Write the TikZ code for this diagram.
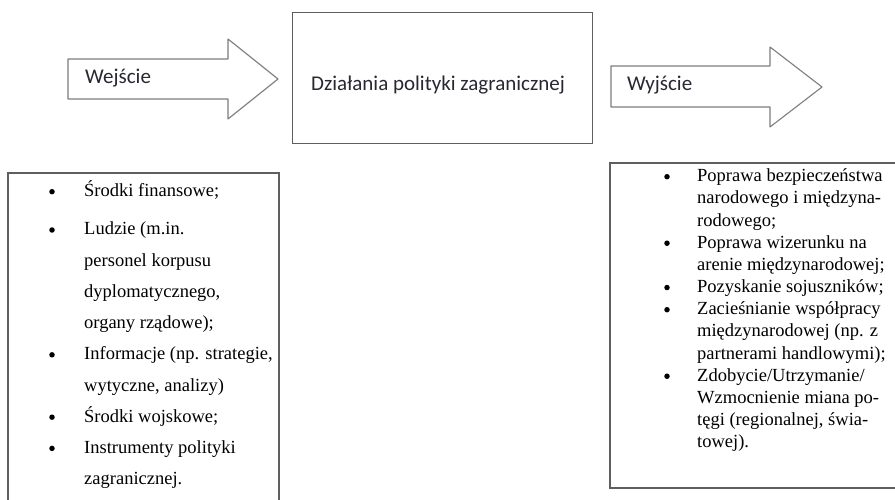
\documentclass[tikz,border=0pt]{standalone}
\usepackage{fontspec}
\setmainfont{Liberation Serif}
\newfontfamily\calib{Carlito}
\definecolor{arrowgray}{RGB}{125,125,125}
\definecolor{boxgray}{RGB}{95,95,95}
\definecolor{textdark}{RGB}{40,40,50}
\begin{document}
\begin{tikzpicture}[x=1pt,y=-1pt,
  arrowshape/.style={draw=arrowgray, line width=1.1pt, fill=white, line join=round},
  boxshape/.style={draw=boxgray, line width=1.1pt},
  label/.style={font=\calib\fontsize{21}{25}\selectfont, text=textdark, inner sep=0},
  item/.style={font=\fontsize{18.5}{22}\selectfont, text=black, inner sep=0, anchor=base west},
  dot/.style={circle, fill=black, inner sep=0, minimum size=5.5pt}]
\useasboundingbox (0,0) rectangle (895,500);
\clip (0,0) rectangle (895,500);
\fill[white] (0,0) rectangle (895,500);
% input arrow
\draw[arrowshape] (68,59) -- (228,59) -- (228,39) -- (278,79) -- (228,119) -- (228,99) -- (68,99) -- cycle;
\node[label, anchor=west] (in) at (85,78) {Wejście};
% central box
\node[boxshape, minimum width=300pt, minimum height=131pt, anchor=north west, inner sep=0] (action) at (292,12) {};
\node[label] (actiontxt) at (438,85) {Działania polityki zagranicznej};
% output arrow
\draw[arrowshape] (611,66) -- (770,66) -- (770,47) -- (822,87) -- (770,127) -- (770,107) -- (611,107) -- cycle;
\node[label, anchor=west] (out) at (627,85) {Wyjście};
% left list box
\draw[boxshape] (8,510) -- (8,173) -- (279,173) -- (279,510);
\foreach \y/\t/\b [count=\k] in {196.7/{Środki finansowe;}/1, 235/{Ludzie (m.in.}/1, 266.2/{personel korpusu}/0, 297.4/{dyplomatycznego,}/0, 328.6/{organy rządowe);}/0, 359.8/{Informacje (np. strategie,}/1, 391/{wytyczne, analizy)}/0, 422.2/{Środki wojskowe;}/1, 453.4/{Instrumenty polityki}/1, 484.6/{zagranicznej.}/0}{
  \node[item] (L\k) at (84,\y) {\t};
  \ifnum\b=1 \node[dot] (LB\k) at (52,\y-5) {}; \fi
}
% right list box
\draw[boxshape] (610,163) rectangle (905,488);
\foreach \t/\b [count=\k from 0] in {{Poprawa bezpieczeństwa}/1, {narodowego i międzyna-}/0, {rodowego;}/0, {Poprawa wizerunku na}/1, {arenie międzynarodowej;}/0, {Pozyskanie sojuszników;}/1, {Zacieśnianie współpracy}/1, {międzynarodowej (np. z}/0, {partnerami handlowymi);}/0, {Zdobycie/Utrzymanie/}/1, {Wzmocnienie miana po-}/0, {tęgi (regionalnej, świa-}/0, {towej).}/0}{
  \pgfmathsetmacro\yy{181.7+22.17*\k}
  \node[item] (R\k) at (697,\yy) {\t};
  \ifnum\b=1 \node[dot] (RB\k) at (667,\yy-5) {}; \fi
}
\end{tikzpicture}
\end{document}
